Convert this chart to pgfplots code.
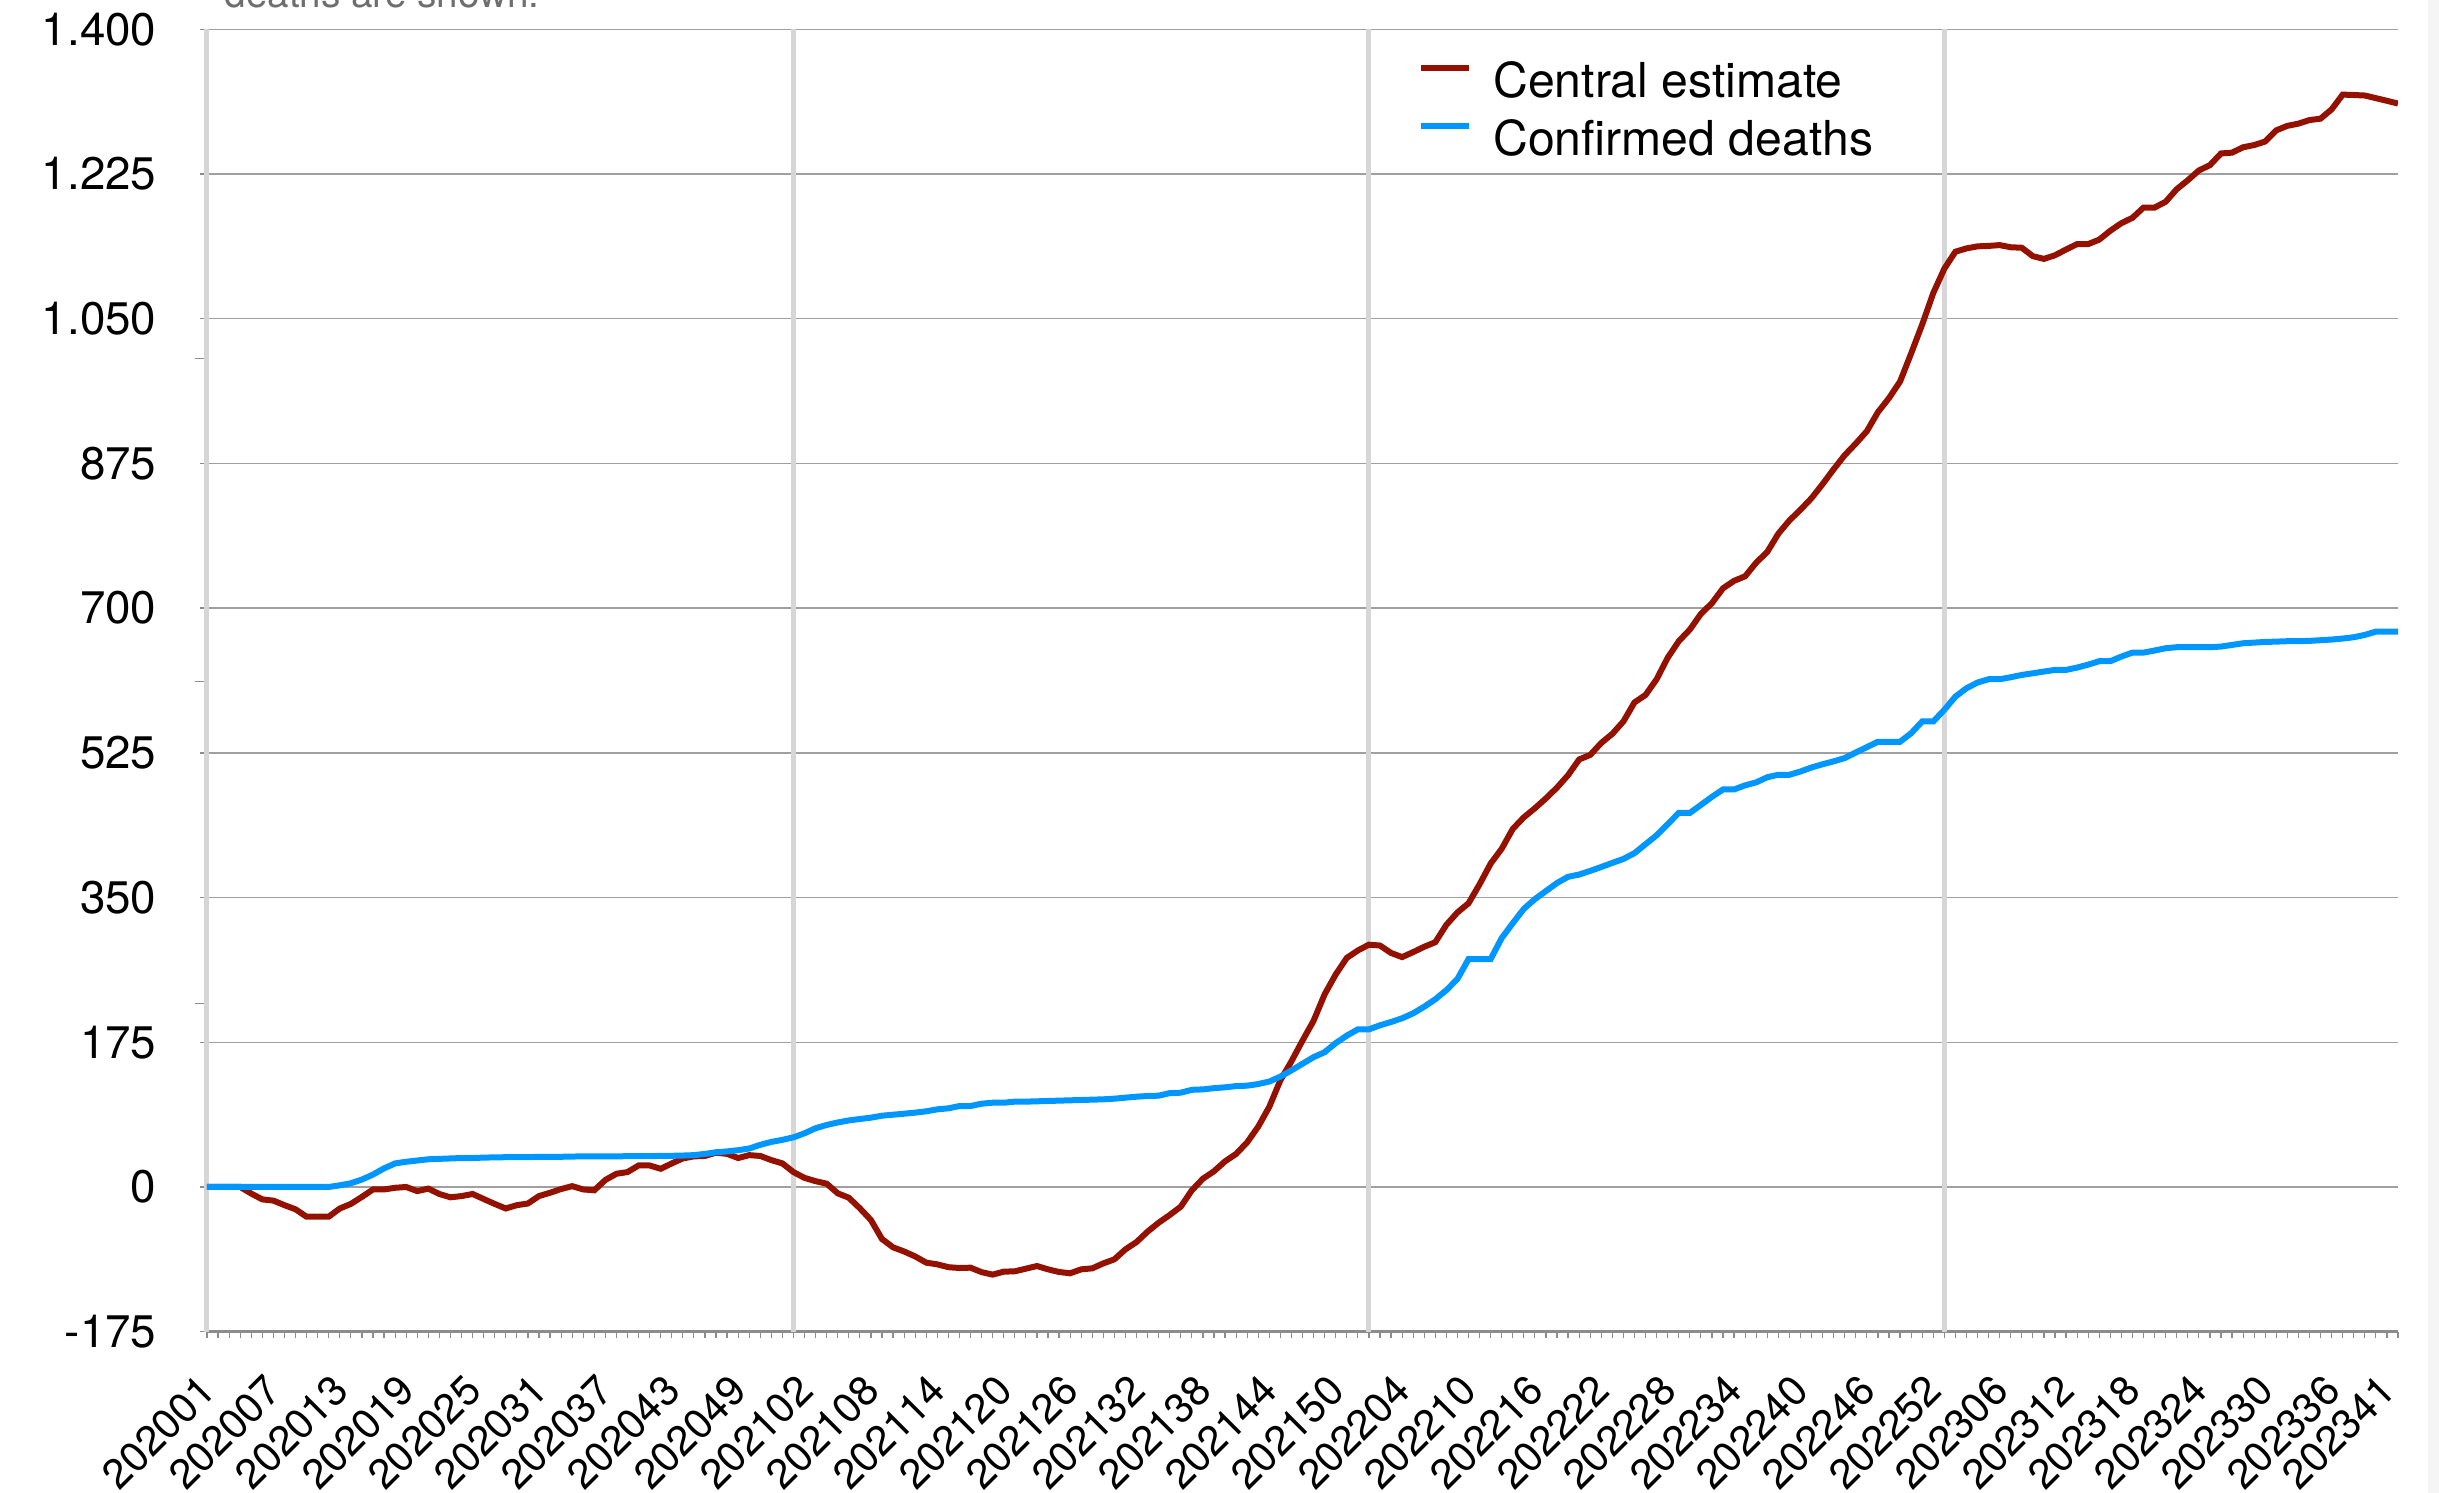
\documentclass[border=0pt]{standalone}
\usepackage{fontspec}
\setmainfont{TeX Gyre Heros}
\usepackage{pgfplots}
\pgfplotsset{compat=1.18}
\usepackage{pgfplotstable}
\definecolor{redline}{RGB}{148,17,0}
\definecolor{blueline}{RGB}{0,150,255}
\definecolor{gridgray}{RGB}{160,160,160}
\definecolor{yeargray}{RGB}{214,214,214}
\definecolor{axisgray}{RGB}{140,140,140}
\definecolor{textgray}{RGB}{110,110,110}
\definecolor{stripgray}{RGB}{245,245,245}

\pgfplotstableread{
k c b
0 0 0
1 0 0
2 0 0
3 0 0
4 -8 0
5 -15 0
6 -16.5 0
7 -22 0
8 -27 0
9 -36 0
10 -36 0
11 -36 0
12 -26 2
13 -20.5 4.5
14 -12 9
15 -3 15
16 -3 22.5
17 -1 28.5
18 0 30.5
19 -5 32
20 -2 33.5
21 -8.5 34
22 -12.5 34.5
23 -11 35
24 -8.5 35
25 -14.5 35.5
26 -20.5 35.8
27 -26 36
28 -22 36
29 -20 36.2
30 -11 36.3
31 -7 36.4
32 -2.5 36.5
33 1 36.8
34 -3 37
35 -4 37
36 8.5 37
37 16 37.1
38 18 37.2
39 26 37.3
40 26 37.4
41 22 37.5
42 28.5 37.7
43 34.5 38
44 37 38.5
45 37.5 40
46 41.5 42
47 40 43
48 35 44.5
49 38.5 46.5
50 37.5 51
51 32.5 54.5
52 28.5 57
53 18 60
54 11 65
55 7 71
56 4 75
57 -7.7 78
58 -13 80.5
59 -25.8 82.2
60 -40 83.8
61 -63 86.2
62 -73 87.4
63 -78 88.6
64 -84 89.9
65 -91.5 91.5
66 -93.6 93.9
67 -97 95.1
68 -98 97.9
69 -97.6 97.9
70 -103 100.7
71 -106 101.9
72 -102.4 101.9
73 -102 103.2
74 -98.8 103.2
75 -95.6 103.6
76 -99.6 104
77 -102.8 104.4
78 -104.4 104.8
79 -99.6 105.2
80 -98.4 105.6
81 -92.4 106
82 -87.5 106.8
83 -75.4 108
84 -66.6 109.2
85 -54 110
86 -43.2 110.4
87 -33.9 113.5
88 -23.8 114
89 -4 117.5
90 10 118
91 19 119.5
92 31 120.5
93 40 122
94 54 122.5
95 73 124.5
96 97 127.5
97 129 133.5
98 152 141
99 177 149
100 201 157
101 233 163
102 257 174
103 277 183
104 286 190.6
105 293 190.6
106 292 195.5
107 283 199.5
108 278 204
109 284 210
110 290.5 218
111 296 227
112 317 238
113 332 251.5
114 343 275.5
115 366 275.5
116 391 275.5
117 409 301
118 433 319
119 447 336.3
120 458 348.1
121 470 357.9
122 483 367.6
123 498 375.1
124 517 377.8
125 522.5 382.2
126 537 387
127 548 391.9
128 563 396.7
129 586 403.7
130 595 414.5
131 614 425.3
132 640 438.8
133 660 452.3
134 674 452.3
135 693 462
136 706 471.8
137 724 480.7
138 733 480.7
139 738.5 485.7
140 755 489.3
141 768 495.5
142 790 498.5
143 806 498.5
144 819 502.4
145 833 507.3
146 850 511.2
147 868 514.7
148 885 518.7
149 899 525.4
150 914 531.9
151 937 538.4
152 954 538.4
153 974 538.4
154 1008 548.7
155 1043 562.9
156 1081 562.9
157 1110.5 577
158 1131 593
159 1135 603.1
160 1137.5 610
161 1138 614
162 1139 614
163 1136.4 616.4
164 1135.8 619.2
165 1125.6 621.2
166 1122.3 623.3
167 1126.7 625.3
168 1133.7 625.3
169 1140.2 628.1
170 1140.2 631.7
171 1145.6 635.8
172 1156.4 635.8
173 1165.5 641.4
174 1172 646.2
175 1184.4 646.2
176 1184.4 648.7
177 1191.4 651.5
178 1206.6 652.7
179 1217.4 652.7
180 1229.2 652.7
181 1235.7 652.7
182 1249.8 653.5
183 1250.8 655.5
184 1257.3 657.5
185 1260 658.3
186 1264.3 659.1
187 1277.8 659.5
188 1283.2 660
189 1285.9 660
190 1290.2 660.4
191 1291.9 661.2
192 1303.2 662
193 1321 663.2
194 1320.5 664.8
195 1319.9 667.6
196 1316.7 671.6
197 1313.5 671.6
198 1310.2 671.6
}\datatable

\begin{document}
\begin{tikzpicture}
\begin{axis}[
  scale only axis,
  width=21.91cm, height=13.024cm,
  xmin=0, xmax=198, ymin=-175, ymax=1400,
  axis x line*=bottom, axis y line*=left,
  axis line style={axisgray, line width=0.025cm},
  ytick={-175,0,175,350,525,700,875,1050,1225,1400},
  scaled y ticks=false,
  /pgf/number format/1000 sep={.},
  /pgf/number format/assume math mode=true,
  ymajorgrids,
  major grid style={gridgray, line width=0.015cm},
  tick align=outside,
  major tick length=0.07cm,
  minor tick length=0.06cm,
  ytick style={axisgray, line width=0.015cm},
  major x tick style={draw=none},
  minor x tick style={axisgray, line width=0.012cm},
  xtick={0,6,12,18,24,30,36,42,48,54,60,66,72,78,84,90,96,102,108,114,120,126,132,138,144,150,156,162,168,174,180,186,192,197},
  xticklabels={202001,202007,202013,202019,202025,202031,202037,202043,202049,202102,202108,202114,202120,202126,202132,202138,202144,202150,202204,202210,202216,202222,202228,202234,202240,202246,202252,202306,202312,202318,202324,202330,202336,202341},
  minor xtick={0,1,...,198},
  extra x ticks={0,53,105,157},
  extra x tick labels={},
  extra x tick style={grid=major, major grid style={yeargray, line width=0.05cm}, major x tick style={draw=none}},
  extra y ticks={1002,611,222},
  extra y tick labels={},
  extra y tick style={grid=none, major tick length=0.09cm, ytick style={axisgray, line width=0.015cm, xshift=-0.03cm}},
  yticklabel style={font=\fontsize{13pt}{15pt}\selectfont, text=black, anchor=east, inner sep=0pt, xshift=-0.43cm},
  xticklabel style={font=\fontsize{11.8pt}{14pt}\selectfont, text=black, xshift=-0.10cm, yshift=-0.33cm, rotate=45, anchor=north east, inner sep=0pt},
  legend style={at={(0.5527,0.9749)}, anchor=north west, draw=none, fill=none,
    inner sep=0pt, outer sep=0pt, row sep=0.12cm, column sep=0pt,
    font=\fontsize{13.7pt}{16pt}\selectfont,
    nodes={inner sep=0pt, text height=0.36cm, text depth=0.10cm}},
  legend cell align=left,
  legend image code/.code={\draw[#1, line width=0.067cm] (0cm,0.17cm) -- (0.48cm,0.17cm); \path (0.69cm,0cm);},
]
\addplot[redline, line width=0.06cm] table[x=k, y=c] {\datatable};
\addlegendentry{Central estimate}
\addplot[blueline, line width=0.06cm] table[x=k, y=b] {\datatable};
\addlegendentry{Confirmed deaths}
\end{axis}
\node[anchor=base west, text=textgray, font=\fontsize{11pt}{13pt}\selectfont, inner sep=0pt] at (0.17cm,13.244cm) {deaths are shown.};
\fill[stripgray] (22.21cm,-1.613cm) rectangle (22.32cm,13.317cm);
\pgfresetboundingbox
\useasboundingbox (-2.07cm,-1.613cm) rectangle (22.32cm,13.317cm);
\end{tikzpicture}
\end{document}
